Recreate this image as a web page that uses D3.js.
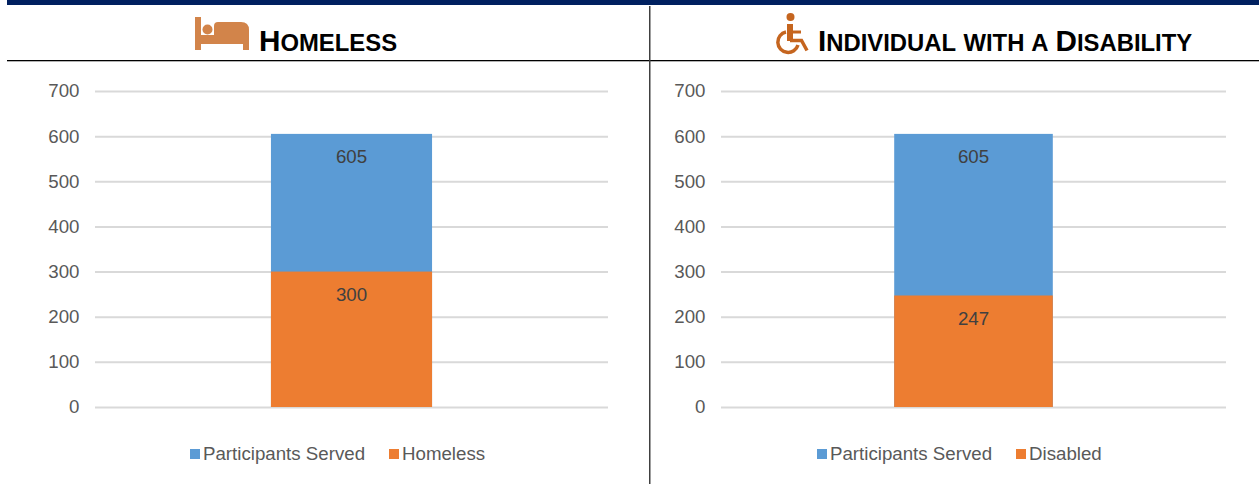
<!DOCTYPE html>
<html><head><meta charset="utf-8">
<script src="https://cdn.jsdelivr.net/npm/d3@7"></script>
<style>html,body{margin:0;padding:0;background:#fff}svg{display:block}text{font-family:"Liberation Sans",Arial,sans-serif}</style>
</head><body><div id="c"></div>
<script>
const yTicks = [0,100,200,300,400,500,600,700];
const servedLabel = "Participants Served";
const homelessValues = [605, 300];
const homelessNames = [servedLabel, "Homeless"];
const disabledValues = [605, 247];
const disabledNames = [servedLabel, "Disabled"];
const seriesColors = ["#5B9BD5", "#ED7D31"];
const W = 1259, H = 484;
const svg = d3.select("#c").append("svg").attr("width",W).attr("height",H);
svg.append("rect").attr("x",7).attr("y",0).attr("width",W-7).attr("height",5).attr("fill","#002060");
svg.append("rect").attr("x",7).attr("y",60).attr("width",W-7).attr("height",1.3).attr("fill","#000");
svg.append("rect").attr("x",649).attr("y",6).attr("width",1.5).attr("height",H-6).attr("fill","#404040");

function title(x, parts){
  const t = svg.append("text").attr("x",x).attr("y",51).attr("font-weight","bold").attr("fill","#000").attr("word-spacing",1.2);
  parts.forEach(([s,size])=>t.append("tspan").attr("font-size",size).text(s));
}
title(259, [["H",29.7],["OMELESS",23.85]]);
title(818, [["I",29.7],["NDIVIDUAL WITH A ",23.85],["D",29.7],["ISABILITY",23.85]]);

// bed icon
const bed = svg.append("g").attr("fill","#D2844A");
bed.append("path").attr("d","M195 17h6v18h48v15h-6v-6H201v6h-6z");
bed.append("circle").attr("cx",207.500).attr("cy",29.500).attr("r",5);
bed.append("path").attr("d","M214 26q0-4 4-4h23q8 0 8 8v5H214z");
// wheelchair icon
const wc = svg.append("g").attr("fill","none").attr("stroke","#C5651F");
wc.append("circle").attr("cx",790.5).attr("cy",17).attr("r",4).attr("fill","#C5651F").attr("stroke","none");
wc.append("path").attr("d","M790 24v17").attr("stroke-width",6);
wc.append("path").attr("d","M790 32h11").attr("stroke-width",3);
wc.append("path").attr("d","M790 40.500h11.500l5.500 10").attr("stroke-width",3.5);
wc.append("path").attr("d","M786 32A10.300 10.300 0 1 0 798 45").attr("stroke-width",3.5);

function chart(cfg){
  const y = d3.scaleLinear().domain([0,700]).range([407,91]);
  const x = d3.scaleBand().domain(["all"]).range([cfg.x0,cfg.x1]).padding(0.522);
  const g = svg.append("g");
  const axis = g.append("g").attr("transform",`translate(${cfg.x0},0)`)
    .call(d3.axisLeft(y).tickValues(yTicks).tickSize(-(cfg.x1-cfg.x0)).tickPadding(15.5).tickFormat(d3.format("d")));
  axis.select(".domain").remove();
  axis.selectAll(".tick line").attr("stroke","#D9D9D9").attr("stroke-width",2);
  axis.selectAll(".tick text").attr("font-size",18.7).attr("fill","#595959").attr("font-family",'"Liberation Sans",Arial,sans-serif');
  cfg.values.forEach((v,i)=>{
    g.append("rect").attr("x",x("all")).attr("width",x.bandwidth())
      .attr("y",y(v)).attr("height",y(0)-y(v)).attr("fill",seriesColors[i]);
  });
  cfg.values.forEach((v,i)=>{
    g.append("text").attr("x",x("all")+x.bandwidth()/2).attr("y",y(v)+29.6)
      .attr("text-anchor","middle").attr("font-size",18.7).attr("fill","#404040").text(v);
  });
  cfg.names.forEach((n,i)=>{
    g.append("rect").attr("x",cfg.legend[i]).attr("y",449).attr("width",10).attr("height",10).attr("fill",seriesColors[i]);
    g.append("text").attr("x",cfg.legend[i]+13).attr("y",460).attr("font-size",18.7).attr("fill","#595959").text(n);
  });
}
chart({x0:95,x1:608,values:homelessValues,names:homelessNames,legend:[190,389]});
chart({x0:721,x1:1226,values:disabledValues,names:disabledNames,legend:[817,1016]});
</script></body></html>
